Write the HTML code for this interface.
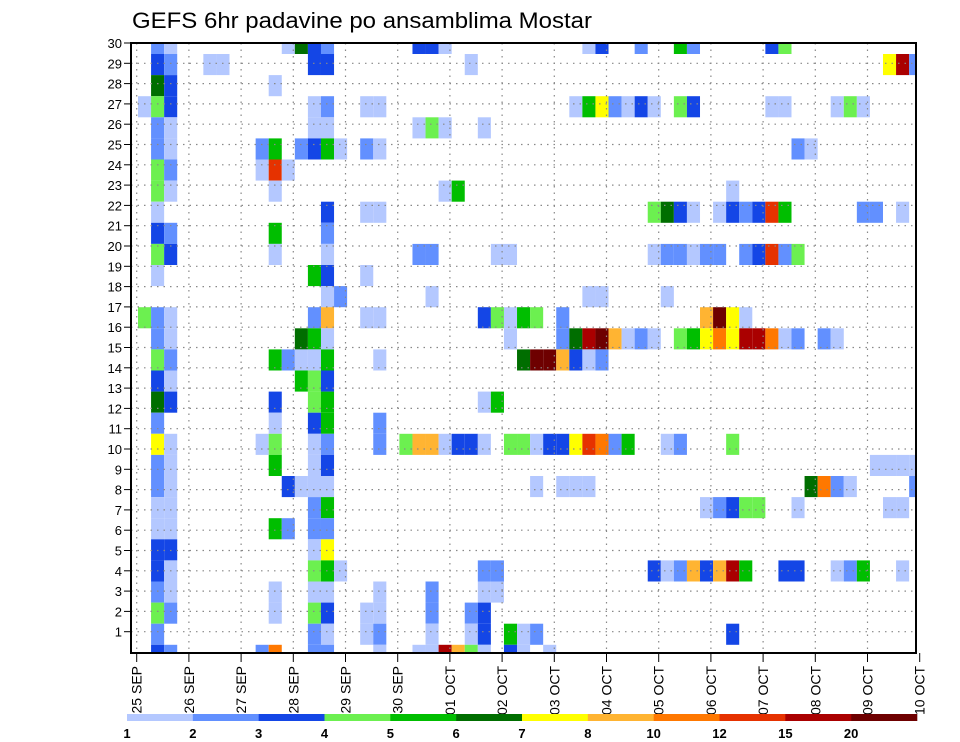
<!DOCTYPE html>
<html><head><meta charset="utf-8"><style>
html,body{margin:0;padding:0;background:#fff;}
svg{display:block;font-family:"Liberation Sans",sans-serif;}
</style></head><body>
<svg id="chart" width="960" height="742" viewBox="0 0 960 742" xmlns="http://www.w3.org/2000/svg">
<text x="132" y="28" font-size="22" textLength="460" lengthAdjust="spacingAndGlyphs" fill="#000">GEFS 6hr padavine po ansamblima Mostar</text>
<g id="cells"></g>
<g id="grid"></g>
<g id="axes"></g>
<g id="legend"></g>
</svg>
<script>
// ---- data ----
const dayLabels = ["25 SEP","26 SEP","27 SEP","28 SEP","29 SEP","30 SEP","01 OCT","02 OCT","03 OCT","04 OCT","05 OCT","06 OCT","07 OCT","08 OCT","09 OCT","10 OCT"];
const memberTicks = [1,2,3,4,5,6,7,8,9,10,11,12,13,14,15,16,17,18,19,20,21,22,23,24,25,26,27,28,29,30];
const binLabels = ["1","2","3","4","5","6","7","8","10","12","15","20"];
const binCodes = ["a","b","c","d","e","f","g","h","i","j","k","l"];
const binColors = ["#b4c8ff","#6290ff","#1446e6","#6cf050","#00be00","#006e00","#ffff00","#ffb432","#ff7800","#e63200","#aa0000","#6e0000"];
// rows from top (member 30) to bottom; entries "col+bin"
const cellRows = [
"1b 2a 11a 12f 13c 14b 21c 22c 23a 34a 35c 38b 41e 42b 48c 49d",
"1c 2b 5a 6a 13c 14c 25a 57g 58k 59b",
"1f 2c 10a",
"0a 1d 2c 13a 14b 17a 18a 33a 34e 35g 36b 37a 38c 39a 41d 42c 48a 49a 53a 54d 55a",
"1b 2a 13a 14a 21a 22d 23a 26a",
"1b 2a 9b 10e 12b 13c 14e 15a 17b 18a 50b 51a",
"1d 2b 9a 10j 11a",
"1d 2a 10a 23a 24e 45a",
"1a 14c 17a 18a 39d 40f 41c 42a 44a 45c 46b 47c 48j 49e 55b 56b 58a",
"1c 2b 10e 14b",
"1d 2c 10a 14a 21b 22b 27a 28a 39a 40b 41b 42a 43b 44b 46b 47c 48j 49b 50d",
"1a 13e 14c 17a",
"14a 15b 22a 34a 35a 40a",
"0d 1b 2a 13b 14h 17a 18a 26c 27d 28a 29e 30d 32b 43h 44l 45g 46a",
"1b 2a 12f 13e 14a 28a 32b 33f 34k 35l 36h 37a 38b 39a 41d 42e 43g 44i 45g 46k 47k 48i 49a 50b 52b 53a",
"1d 2b 10e 11b 12a 13a 14e 18a 29f 30l 31l 32h 33c 34a 35b",
"1c 2a 12e 13d 14c",
"1f 2c 10c 13d 14e 26a 27e",
"1b 10a 13c 14e 18b",
"1g 2a 9a 10d 13a 14b 18b 20d 21h 22h 23a 24c 25c 26a 28d 29d 30a 31c 32c 33g 34j 35i 36b 37e 40a 41b 45d",
"1b 2a 10e 13a 14c 56a 57a 58a 59a",
"1b 2a 11c 12a 13a 14a 30a 32a 33a 34a 51f 52i 53b 54a 59b",
"1a 2a 13b 14e 43a 44b 45c 46d 47d 50a 57a 58a",
"1a 2a 10e 11b 13b 14b",
"1c 2c 13a 14g",
"1c 2a 13d 14e 15a 26b 27b 39c 40a 41b 42h 43c 44h 45k 46e 49c 50c 53a 54b 55e 58a",
"1b 2a 10a 13a 14a 18a 22b 26a 27a",
"1d 2b 10a 13d 14c 17a 18a 22b 25b 26c",
"1b 13b 14a 17a 18b 22a 25a 26c 28e 29a 30b 45c",
"1c 2b 9b 10i 13b 14b 18a 21a 22a 23k 24h 25d 26a 28c 29a 31a"
];
</script>
<script>
const NS="http://www.w3.org/2000/svg";
const PL=131, PR=916, PT=43, PB=653;
function mk(tag,attrs,parent){const e=document.createElementNS(NS,tag);for(const k in attrs)e.setAttribute(k,attrs[k]);parent.appendChild(e);return e;}
// scales
const colX = c => 138 + c*13.07;      // timestep column -> x
const colW = 13.07;
const rowTop = k => 54 + (k-1)*21.1;  // row index from top -> y
const rowH = 21.1;
const dayX = d => 136.7 + d*52.2;
const memY = m => 652 - m*20.3;

const cellsG=document.getElementById('cells');
cellRows.forEach((row,k)=>{
  row.split(" ").forEach(tok=>{
    const col=parseInt(tok,10), code=tok.replace(/[0-9]/g,'');
    const bi=binCodes.indexOf(code);
    let x0=colX(col), x1=x0+colW, y0=rowTop(k), y1=y0+rowH;
    x0=Math.max(x0,PL); x1=Math.min(x1,PR); y0=Math.max(y0,PT); y1=Math.min(y1,PB);
    const r=mk('rect',{x:x0.toFixed(2),y:y0.toFixed(2),width:(x1-x0).toFixed(2),height:(y1-y0).toFixed(2),fill:binColors[bi]},cellsG);
    
    
  });
});
// grid
const gridG=document.getElementById('grid');
dayLabels.forEach((d,i)=>{
  const x=dayX(i); if(x>PR-1) return;
  const l=mk('line',{x1:x,y1:PT,x2:x,y2:PB,stroke:'#888','stroke-width':1.2,'stroke-dasharray':'1.5 5'},gridG);
  
  
});
memberTicks.forEach(m=>{
  const y=memY(m);
  const l=mk('line',{x1:PL,y1:y,x2:PR,y2:y,stroke:'#888','stroke-width':1.2,'stroke-dasharray':'1.5 5'},gridG);
  
  
});
// axes
const axG=document.getElementById('axes');
const frame=mk('rect',{x:PL,y:PT,width:PR-PL,height:PB-PT,fill:'none',stroke:'#000','stroke-width':2},axG);


memberTicks.forEach(m=>{
  const y=memY(m);
  const t=mk('line',{x1:124,y1:y,x2:PL,y2:y,stroke:'#000','stroke-width':1},axG);
  
  
  const tx=mk('text',{x:122,y:y+5,'font-size':13,'text-anchor':'end',fill:'#000'},axG);
  tx.textContent=m;
  
  
});
dayLabels.forEach((d,i)=>{
  const x=dayX(i);
  const t=mk('line',{x1:x,y1:PB,x2:x,y2:PB+9,stroke:'#000','stroke-width':1},axG);
  
  
  const tx=mk('text',{x:0,y:0,'font-size':14,'text-anchor':'end','dominant-baseline':'central',fill:'#000',transform:`translate(${x.toFixed(1)},666) rotate(-90)`},axG);
  tx.textContent=d;
  
  
});
// legend
const lg=document.getElementById('legend');
const LX0=127, LW=(917-127)/binColors.length;
binColors.forEach((c,i)=>{
  const r=mk('rect',{x:(LX0+i*LW).toFixed(2),y:714,width:(LW+0.3).toFixed(2),height:7,fill:c},lg);
  
  
});
binLabels.forEach((s,i)=>{
  const tx=mk('text',{x:(LX0+i*LW).toFixed(2),y:738,'font-size':13,'font-weight':'bold','text-anchor':'middle',fill:'#000'},lg);
  tx.textContent=s;
  
  
});
</script>
</body></html>
